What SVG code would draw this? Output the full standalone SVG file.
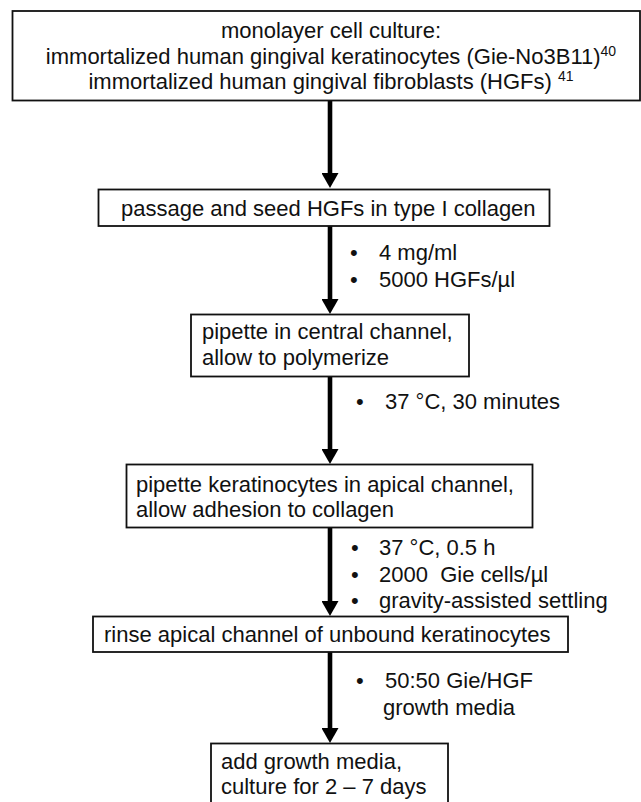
<svg xmlns="http://www.w3.org/2000/svg" width="641" height="802" viewBox="0 0 641 802">
<style>
.box{fill:#fff;stroke:#111;stroke-width:1.8}
text{font-family:"Liberation Sans",Arial,sans-serif;font-size:22px;fill:#111}
.c{text-anchor:middle}
.sup{font-size:14px}
.conn{stroke:#000;stroke-width:4.6;fill:none}
</style>
<defs>
<marker id="ah" viewBox="0 0 15 17" refX="0" refY="8.5" markerWidth="15" markerHeight="17" markerUnits="userSpaceOnUse" orient="auto">
<path d="M0,0 L15,8.5 L0,17 Z" fill="#000"/>
</marker>
</defs>
<rect width="641" height="802" fill="#fff"/>
<g id="connectors">
<line class="conn" x1="330" y1="100" x2="330" y2="173" marker-end="url(#ah)"/>
<line class="conn" x1="330" y1="226" x2="330" y2="299" marker-end="url(#ah)"/>
<line class="conn" x1="330" y1="377" x2="330" y2="449" marker-end="url(#ah)"/>
<line class="conn" x1="330" y1="528" x2="330" y2="601" marker-end="url(#ah)"/>
<line class="conn" x1="330" y1="652" x2="330" y2="728" marker-end="url(#ah)"/>
</g>
<g id="n1">
<rect class="box" x="12.5" y="11" width="627.5" height="89.5"/>
<text class="c" x="331" y="38">monolayer cell culture:</text>
<text class="c" x="331" y="63.5">immortalized human gingival keratinocytes (Gie-No3B11)<tspan class="sup" dy="-8">40</tspan></text>
<text class="c" x="331" y="89">immortalized human gingival fibroblasts (HGFs) <tspan class="sup" dy="-8">41</tspan></text>
</g>
<g id="n2">
<rect class="box" x="98.5" y="189.5" width="451" height="36.5"/>
<text x="121" y="215.5">passage and seed HGFs in type I collagen</text>
</g>
<g id="l2">
<text x="350" y="260">•</text><text x="379" y="260">4 mg/ml</text>
<text x="350" y="286.5">•</text><text x="379" y="286.5">5000 HGFs/µl</text>
</g>
<g id="n3">
<rect class="box" x="191" y="314.5" width="278" height="62"/>
<text x="202" y="339">pipette in central channel,</text>
<text x="202" y="365">allow to polymerize</text>
</g>
<g id="l3">
<text x="356" y="409">•</text><text x="385" y="409">37 °C, 30 minutes</text>
</g>
<g id="n4">
<rect class="box" x="126.5" y="464.5" width="406" height="63"/>
<text x="136" y="492">pipette keratinocytes in apical channel,</text>
<text x="136" y="517">allow adhesion to collagen</text>
</g>
<g id="l4">
<text x="351" y="555">•</text><text x="379" y="555">37 °C, 0.5 h</text>
<text x="351" y="581.5">•</text><text x="379" y="581.5" xml:space="preserve">2000  Gie cells/µl</text>
<text x="351" y="608">•</text><text x="379" y="608">gravity-assisted settling</text>
</g>
<g id="n5">
<rect class="box" x="93" y="616.5" width="475" height="35.5"/>
<text x="104" y="641.5">rinse apical channel of unbound keratinocytes</text>
</g>
<g id="l5">
<text x="356" y="688">•</text><text x="385" y="688">50:50 Gie/HGF</text>
<text x="383" y="715">growth media</text>
</g>
<g id="n6">
<rect class="box" x="211" y="743.5" width="237" height="62"/>
<text x="221" y="768.5">add growth media,</text>
<text x="221" y="794">culture for 2 – 7 days</text>
</g>
</svg>
